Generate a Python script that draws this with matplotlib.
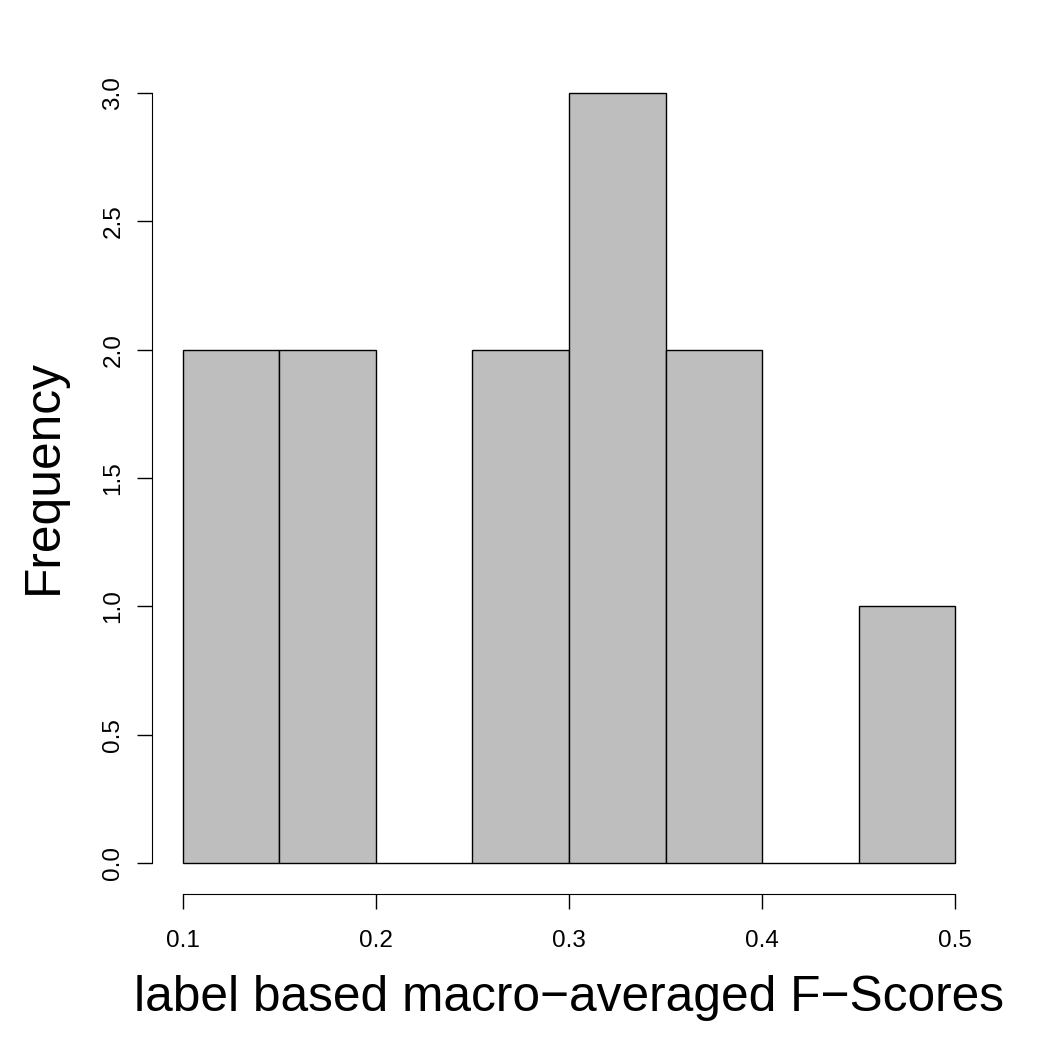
import matplotlib
matplotlib.use("Agg")
import matplotlib.pyplot as plt
import numpy as np

plt.rcParams['font.family'] = ['Liberation Sans', 'DejaVu Sans']

# histogram bins and counts
bin_edges = [0.10, 0.15, 0.20, 0.25, 0.30, 0.35, 0.40, 0.45, 0.50]
counts = [2, 2, 0, 2, 3, 2, 0, 1]
x_ticks = [0.1, 0.2, 0.3, 0.4, 0.5]
y_ticks = [0.0, 0.5, 1.0, 1.5, 2.0, 2.5, 3.0]

W = 1048
fig = plt.figure(figsize=(10.48, 10.48), dpi=100)
ax = fig.add_axes([152 / W, (W - 894) / W, (986 - 152) / W, (894 - 62) / W])

left = np.array(bin_edges[:-1])
widths = np.diff(bin_edges)
ax.bar(left, counts, width=widths, align='edge', color='#bebebe',
       edgecolor='black', linewidth=1.0)

ax.set_xlim(0.084, 0.516)
ax.set_ylim(-0.12, 3.12)

for s in ['top', 'right']:
    ax.spines[s].set_visible(False)
ax.spines['left'].set_bounds(0, 3)
ax.spines['bottom'].set_bounds(0.1, 0.5)

ax.set_xticks(x_ticks)
ax.set_xticklabels([f'{v:g}' for v in x_ticks])
ax.set_yticks(y_ticks)
ax.set_yticklabels([f'{v:.1f}' for v in y_ticks], rotation=90, va='center')
ax.tick_params(direction='out', length=10.8, width=1, labelsize=17.5)
ax.tick_params(axis='x', pad=15)
ax.tick_params(axis='y', pad=9)

# axis titles, placed like R's mtext
fig.text(569 / W, (W - 998) / W, 'label based macro\u2212averaged F\u2212Scores',
         fontsize=35.7, ha='center', va='center')
fig.text(44 / W, (W - 476) / W, 'Frequency', fontsize=35.7, rotation=90,
         ha='center', va='center')

fig.savefig('out.png', dpi=100)
